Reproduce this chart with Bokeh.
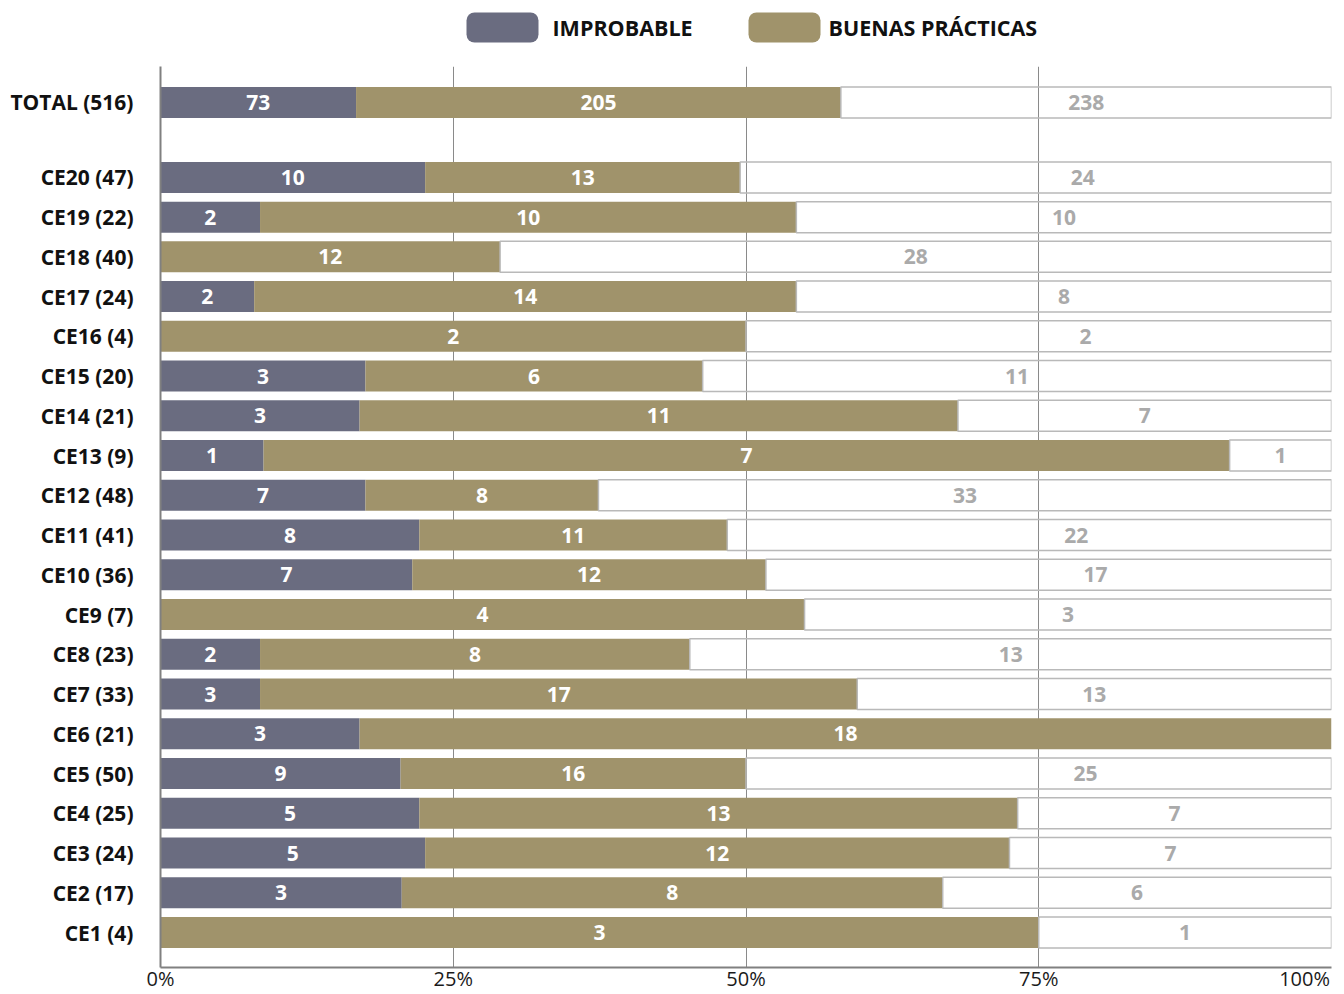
from bokeh.plotting import figure
from bokeh.layouts import column
from bokeh.models import (ColumnDataSource, Range1d, FixedTicker)
from bokeh.core.properties import value
from bokeh.embed import file_html
from bokeh.resources import INLINE

# ---- data (top to bottom) ----
categories = ["TOTAL (516)", "CE20 (47)", "CE19 (22)", "CE18 (40)", "CE17 (24)", "CE16 (4)",
              "CE15 (20)", "CE14 (21)", "CE13 (9)", "CE12 (48)", "CE11 (41)", "CE10 (36)",
              "CE9 (7)", "CE8 (23)", "CE7 (33)", "CE6 (21)", "CE5 (50)", "CE4 (25)",
              "CE3 (24)", "CE2 (17)", "CE1 (4)"]
improbable_n = [73, 10, 2, 0, 2, 0, 3, 3, 1, 7, 8, 7, 0, 2, 3, 3, 9, 5, 5, 3, 0]
buenas_n = [205, 13, 10, 12, 14, 2, 6, 11, 7, 8, 11, 12, 4, 8, 17, 18, 16, 13, 12, 8, 3]
resto_n = [238, 24, 10, 28, 8, 2, 11, 7, 1, 33, 22, 17, 3, 13, 13, 0, 25, 7, 7, 6, 1]
# bar shares (%) as drawn in the picture
improbable_pct = [16.7, 22.6, 8.5, 0, 8.0, 0, 17.5, 17.0, 8.8, 17.5, 22.1, 21.5, 0, 8.5, 8.5,
                  17.0, 20.5, 22.1, 22.6, 20.6, 0]
buenas_pct = [41.4, 26.9, 45.8, 29.0, 46.3, 50.0, 28.8, 51.1, 82.5, 19.9, 26.3, 30.2, 55.0,
              36.7, 51.0, 83.0, 29.5, 51.1, 49.9, 46.2, 75.0]
x_ticks = [0, 25, 50, 75, 100]
x_tick_labels = ["0%", "25%", "50%", "75%", "100%"]
series_names = ["IMPROBABLE", "BUENAS PRÁCTICAS"]

C_IMP = "#6a6c80"
C_BP = "#a0936b"
FONT = "Open Sans"

n = len(categories)
gap = 0.885
ypos = []
for i in range(n):
    if i == 0:
        ypos.append(n - 1 + gap)
    else:
        ypos.append(float(n - 1 - i))

imp_end = [a for a in improbable_pct]
bp_end = [a + b for a, b in zip(improbable_pct, buenas_pct)]

src = ColumnDataSource(dict(y=ypos, imp_end=imp_end, bp_end=bp_end, zero=[0] * n))

p = figure(width=1344, height=928, output_backend="svg", toolbar_location=None,
           x_range=Range1d(0, 100), y_range=Range1d(-0.88, 21.79),
           min_border_left=160, min_border_right=13, min_border_top=0, min_border_bottom=0)
p.outline_line_color = None
p.background_fill_color = "white"
p.border_fill_color = "white"

H = 0.78
p.hbar(y="y", left="zero", right="imp_end", height=H, source=src,
       fill_color=C_IMP, line_color=None)
p.hbar(y="y", left="imp_end", right="bp_end", height=H, source=src,
       fill_color=C_BP, line_color=None)
rest_idx = [i for i in range(n) if resto_n[i] > 0]
rest_src = ColumnDataSource(dict(y=[ypos[i] for i in rest_idx],
                                 left=[bp_end[i] for i in rest_idx],
                                 right=[100] * len(rest_idx)))
p.hbar(y="y", left="left", right="right", height=H, source=rest_src,
       fill_alpha=0, line_color="#b9b9b9", line_width=1.5)

# value labels
def seg_labels(vals, starts, ends, color, shift_near_grid=False):
    xs, ys, ts = [], [], []
    for i in range(n):
        if vals[i] <= 0:
            continue
        c = (starts[i] + ends[i]) / 2
        if shift_near_grid and abs(c - 75) < 1.5:
            c += 4
        xs.append(c)
        ys.append(ypos[i])
        ts.append(str(vals[i]))
    s = ColumnDataSource(dict(x=xs, y=ys, t=ts))
    p.text(x="x", y="y", text="t", source=s, text_align="center", text_baseline="middle",
           text_color=color, text_font=value(FONT), text_font_style="bold",
           text_font_size="21px")

seg_labels(improbable_n, [0] * n, imp_end, "white")
seg_labels(buenas_n, imp_end, bp_end, "white")
seg_labels(resto_n, bp_end, [100] * n, "#aaaaaa", shift_near_grid=True)

# axes: the last tick label sits flush with the right edge, as in the source
label_ticks = x_ticks[:-1] + [x_ticks[-1] - 2.3]
p.xaxis.ticker = FixedTicker(ticks=label_ticks)
p.xaxis.major_label_overrides = {t: l for t, l in zip(label_ticks, x_tick_labels)}
p.xaxis.major_label_text_font = FONT
p.xaxis.major_label_text_font_size = "20px"
p.xaxis.major_label_text_color = "#1a1a1a"
p.xaxis.major_label_standoff = -3
p.xaxis.major_tick_line_color = None
p.xaxis.major_tick_out = 0
p.xaxis.major_tick_in = 0
p.xaxis.minor_tick_line_color = None
p.xaxis.axis_line_color = "#808080"
p.xaxis.axis_line_width = 2

p.yaxis.ticker = FixedTicker(ticks=ypos)
p.yaxis.major_label_overrides = {y: c for y, c in zip(ypos, categories)}
p.yaxis.major_label_text_font = FONT
p.yaxis.major_label_text_font_style = "bold"
p.yaxis.major_label_text_font_size = "21px"
p.yaxis.major_label_text_color = "#111111"
p.yaxis.major_label_standoff = 27
p.yaxis.major_tick_line_color = None
p.yaxis.major_tick_out = 0
p.yaxis.major_tick_in = 0
p.yaxis.minor_tick_line_color = None
p.yaxis.axis_line_color = "#808080"
p.yaxis.axis_line_width = 2

p.ygrid.grid_line_color = None
p.xgrid.ticker = FixedTicker(ticks=x_ticks[1:])
p.xgrid.grid_line_color = "#8a8a8a"
p.xgrid.grid_line_width = 1

# ---- legend strip above the chart (canvas pixel coordinates, y downward) ----
# the column layout aligns this strip's frame with the chart frame (x 160..1331)
lf = figure(width=1344, height=66, output_backend="svg", toolbar_location=None,
            x_range=Range1d(160, 1331), y_range=Range1d(66, 0),
            min_border_left=0, min_border_right=0, min_border_top=0, min_border_bottom=0)
lf.axis.visible = False
lf.grid.visible = False
lf.outline_line_color = None
swatch_left = [466, 748]
swatch_w = 72
lsrc = ColumnDataSource(dict(y=[27, 27], left=swatch_left,
                             right=[x + swatch_w for x in swatch_left],
                             color=[C_IMP, C_BP]))
lf.hbar(y="y", left="left", right="right", height=30, source=lsrc,
        fill_color="color", line_color=None, border_radius=8)
tsrc = ColumnDataSource(dict(x=[552, 828], y=[27, 27], t=series_names))
lf.text(x="x", y="y", text="t", source=tsrc, text_align="left", text_baseline="middle",
        text_color="#111111", text_font=value(FONT), text_font_style="bold",
        text_font_size="21.5px")

layout = column(lf, p, spacing=0)
open("out.html", "w").write(file_html(layout, INLINE))
